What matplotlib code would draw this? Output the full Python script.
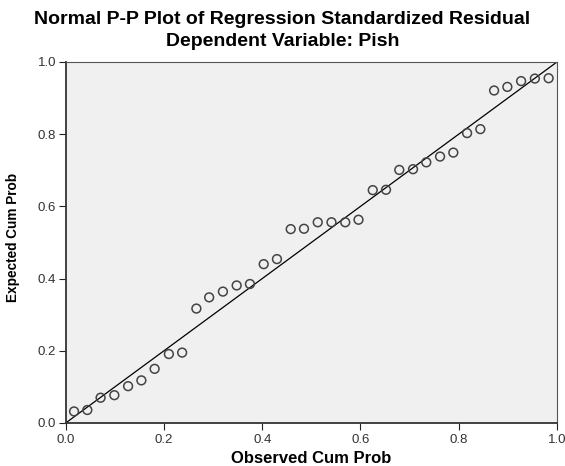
import numpy as np
import matplotlib
matplotlib.use("Agg")
from matplotlib import pyplot as plt

# Observed vs expected cumulative probabilities
observed = [0.017, 0.044, 0.071, 0.099, 0.127, 0.154, 0.181, 0.210, 0.237,
            0.266, 0.292, 0.320, 0.348, 0.375, 0.403, 0.430, 0.458, 0.485,
            0.513, 0.541, 0.569, 0.596, 0.625, 0.652, 0.679, 0.707, 0.734,
            0.762, 0.789, 0.817, 0.844, 0.872, 0.899, 0.927, 0.955, 0.983]
expected = [0.032, 0.036, 0.070, 0.077, 0.102, 0.118, 0.150, 0.191, 0.195,
            0.317, 0.348, 0.364, 0.381, 0.385, 0.440, 0.454, 0.537, 0.538,
            0.556, 0.556, 0.556, 0.563, 0.645, 0.646, 0.701, 0.703, 0.722,
            0.738, 0.749, 0.803, 0.814, 0.921, 0.931, 0.947, 0.954, 0.955]
ticks = [0.0, 0.2, 0.4, 0.6, 0.8, 1.0]
tick_labels = ["0.0", "0.2", "0.4", "0.6", "0.8", "1.0"]

plt.rcParams['font.family'] = ['Liberation Sans', 'DejaVu Sans']

fig = plt.figure(figsize=(5.65, 4.66), dpi=100)
ax = fig.add_axes([0.1163, 0.0923, 0.8695, 0.7747])
ax.set_facecolor('#f0f0f0')

# reference diagonal
ax.plot([0, 1], [0, 1], color='black', linewidth=0.9, zorder=2)
ax.scatter(observed, expected, s=40, facecolors='none', edgecolors='#444444',
           linewidths=1.1, zorder=3)

ax.set_xlim(0, 1)
ax.set_ylim(0, 1)
ax.set_xticks(ticks)
ax.set_xticklabels(tick_labels)
ax.set_yticks(ticks)
ax.set_yticklabels(tick_labels)
ax.tick_params(direction='out', length=5, width=0.8, colors='#222222',
               labelsize=9.5, labelcolor='#333333')
ax.tick_params(axis='x', pad=3)
ax.tick_params(axis='y', pad=2)

for side in ['left', 'bottom']:
    ax.spines[side].set_linewidth(1.3)
    ax.spines[side].set_color('#333333')
for side in ['top', 'right']:
    ax.spines[side].set_linewidth(0.8)
    ax.spines[side].set_color('#555555')

ax.set_xlabel("Observed Cum Prob", fontsize=12, fontweight='bold')
ax.set_ylabel("Expected Cum Prob", fontsize=9.8, fontweight='bold')
ax.xaxis.set_label_coords(0.50, -0.097)
ax.yaxis.set_label_coords(-0.107, 0.515)
ax.xaxis.label.set_va('center')
ax.yaxis.label.set_va('center')

fig.text(0.5, 0.958, "Normal P-P Plot of Regression Standardized Residual",
         ha='center', va='center', fontsize=14, fontweight='bold')
fig.text(0.5, 0.911, "Dependent Variable: Pish",
         ha='center', va='center', fontsize=14, fontweight='bold')

fig.savefig("out.png", dpi=100, facecolor='white')
